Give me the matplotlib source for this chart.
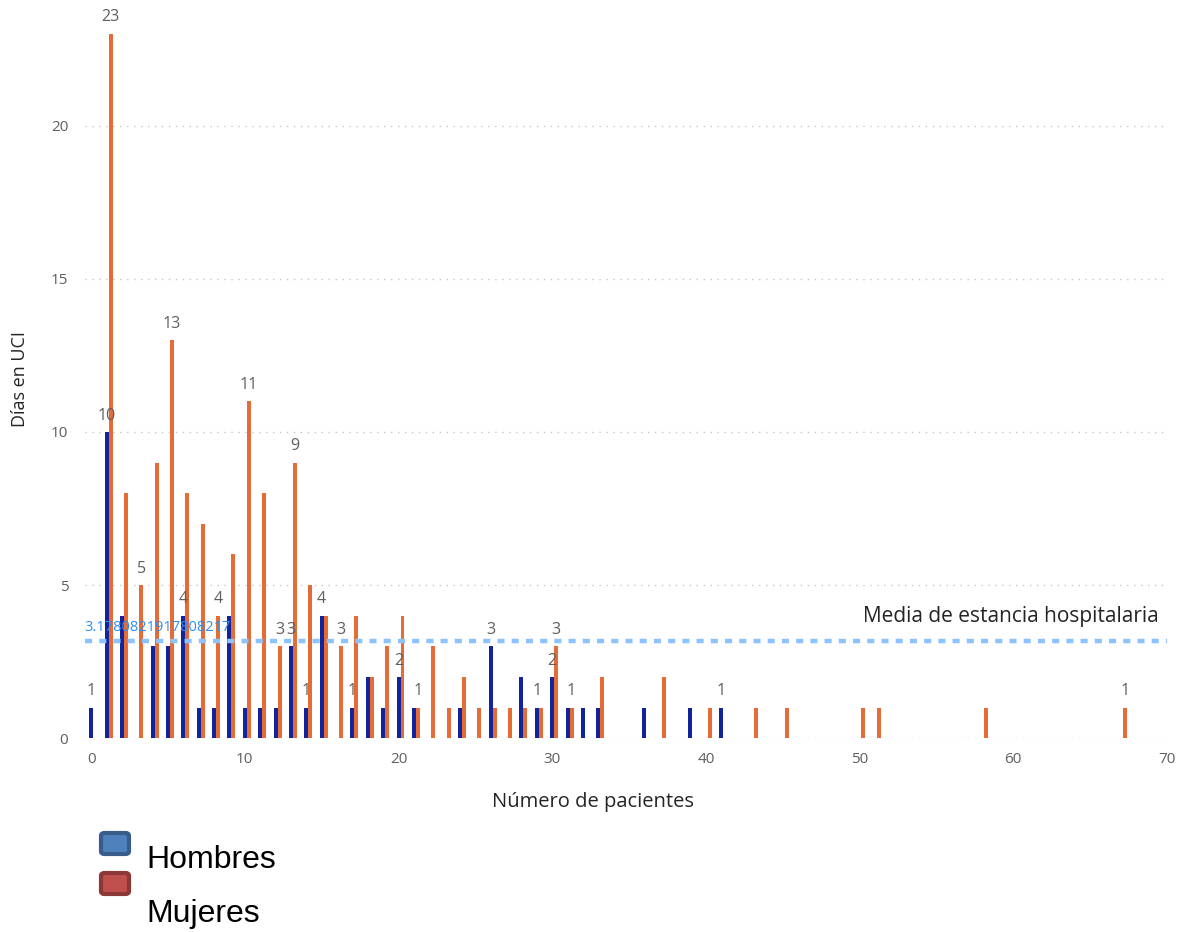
import matplotlib.pyplot as plt
from matplotlib.patches import FancyBboxPatch
import numpy as np

# pacientes por día de estancia en UCI
hombres_x = [0, 1, 2, 4, 5, 6, 7, 8, 9, 10, 11, 12, 13, 14, 15, 17, 18, 19, 20, 21,
             24, 26, 28, 29, 30, 31, 32, 33, 36, 39, 41]
hombres_y = [1, 10, 4, 3, 3, 4, 1, 1, 4, 1, 1, 1, 3, 1, 4, 1, 2, 1, 2, 1,
             1, 3, 2, 1, 2, 1, 1, 1, 1, 1, 1]
mujeres_x = [1, 2, 3, 4, 5, 6, 7, 8, 9, 10, 11, 12, 13, 14, 15, 16, 17, 18, 19, 20,
             21, 22, 23, 24, 25, 26, 27, 28, 29, 30, 31, 33, 37, 40, 43, 45, 50, 51, 58, 67]
mujeres_y = [23, 8, 5, 9, 13, 8, 7, 4, 6, 11, 8, 3, 9, 5, 4, 3, 4, 2, 3, 4,
             1, 3, 1, 2, 1, 1, 1, 1, 1, 3, 1, 2, 2, 1, 1, 1, 1, 1, 1, 1]

# etiquetas de datos visibles
hombres_etiquetas = [0, 1, 6, 13, 14, 15, 17, 20, 26, 29, 30, 41]
mujeres_etiquetas = [1, 3, 5, 8, 10, 12, 13, 16, 21, 30, 31, 67]

media = 3.1780821917808217

AZUL = "#12239E"
NARANJA = "#E66C37"
GRIS = "#605E5C"
ancho = 0.26

plt.rcParams['font.family'] = ['Open Sans', 'DejaVu Sans']

fig = plt.figure(figsize=(11.81, 9.32), dpi=100)
ax = fig.add_axes([0.072, 0.208, 0.916, 0.7705])

ax.bar(np.array(hombres_x), hombres_y, width=ancho, color=AZUL, align='center', zorder=3)
ax.bar(np.array(mujeres_x) + ancho, mujeres_y, width=ancho, color=NARANJA, align='center', zorder=3)

for x, y in zip(hombres_x, hombres_y):
    if x in hombres_etiquetas:
        ax.annotate(str(y), (x, y), xytext=(0, 6), textcoords='offset points',
                    ha='center', va='bottom', fontsize=11.5, color=GRIS, zorder=5)
for x, y in zip(mujeres_x, mujeres_y):
    if x in mujeres_etiquetas:
        ax.annotate(str(y), (x + ancho, y), xytext=(0, 6), textcoords='offset points',
                    ha='center', va='bottom', fontsize=11.5, color=GRIS, zorder=5)

# línea de la media
ax.axhline(media, color="#8CC3FF", lw=3.2, dashes=(1.6, 1.6), dash_capstyle='butt', zorder=4)
ax.text(-0.45, media + 0.2, repr(media), color="#2D8EF0", fontsize=10.5,
        ha='left', va='bottom', zorder=6)
ax.text(69.5, media + 0.45, "Media de estancia hospitalaria", color="#252423",
        fontsize=15, ha='right', va='bottom')

ax.set_xlim(-0.4, 70)
ax.set_ylim(0, 23.45)
ax.set_xticks(range(0, 71, 10))
ax.set_yticks(range(0, 21, 5))
ax.grid(axis='y', color="#C8C6C4", linestyle=(0, (1, 4)), lw=1)
ax.set_axisbelow(True)
ax.tick_params(length=0, labelsize=11, labelcolor=GRIS)
ax.tick_params(axis='x', pad=10)
ax.tick_params(axis='y', pad=12)
for s in ax.spines.values():
    s.set_visible(False)

ax.set_xlabel("Número de pacientes", fontsize=14.5, color="#252423", labelpad=24)
ax.xaxis.set_label_coords(0.47, -0.075)
ax.set_ylabel("Días en UCI", fontsize=13, color="#252423", labelpad=16)

# leyenda
W, H = 1181, 932
for y0, cara, borde in [(855, "#4F81BD", "#385D8A"), (895, "#C0504D", "#8C3836")]:
    fig.patches.append(FancyBboxPatch((101 / W, (H - y0 + 1) / H), 28 / W, 21 / H,
                                      boxstyle="round,pad=0,rounding_size=0.003",
                                      transform=fig.transFigure, facecolor=cara,
                                      edgecolor=borde, lw=3))
fig.text(146 / W, (H - 868) / H, "Hombres", fontsize=23, family='Liberation Sans',
         color="black", va='baseline')
fig.text(146 / W, (H - 922) / H, "Mujeres", fontsize=23, family='Liberation Sans',
         color="black", va='baseline')

fig.savefig("out.png", dpi=100)
